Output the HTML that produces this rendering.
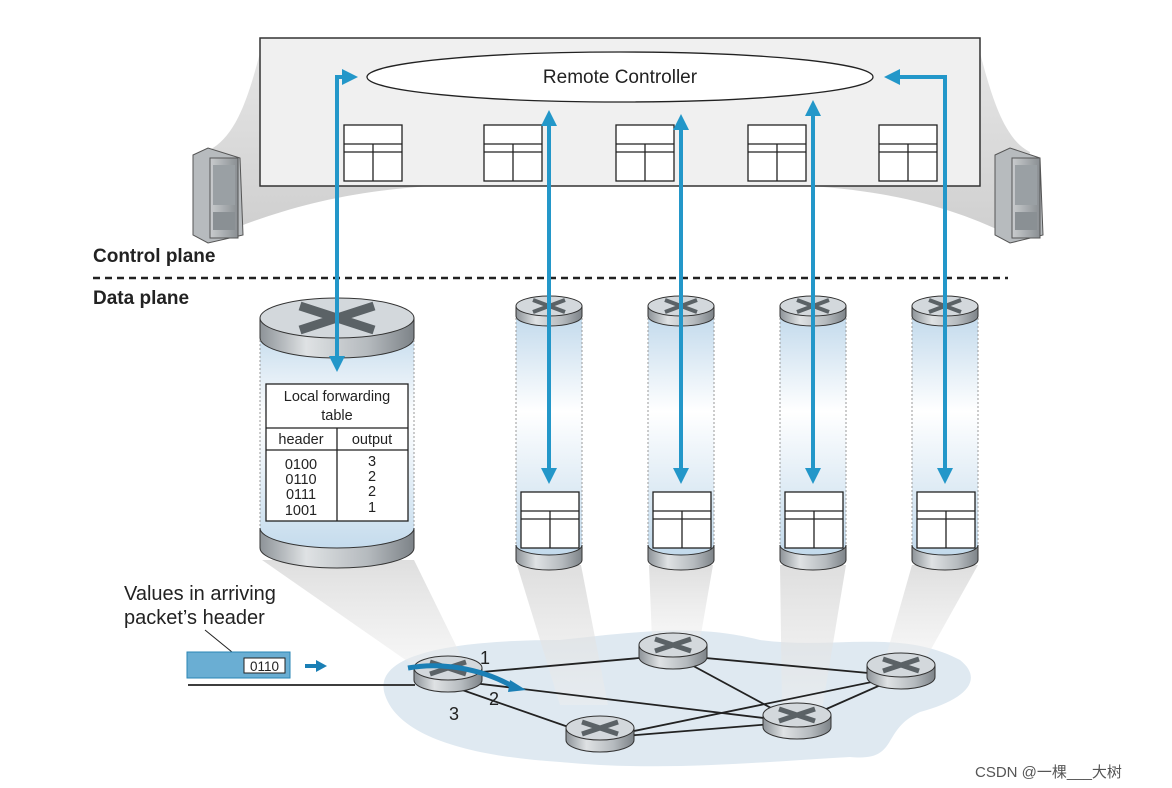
<!DOCTYPE html>
<html><head><meta charset="utf-8"><style>
html,body{margin:0;padding:0;background:#fff;}
svg{display:block;font-family:"Liberation Sans",sans-serif;}
</style></head><body>
<svg width="1172" height="788" viewBox="0 0 1172 788" xmlns="http://www.w3.org/2000/svg">
<defs>
<linearGradient id="metal" x1="0" x2="1" y1="0" y2="0">
<stop offset="0" stop-color="#8d9398"/><stop offset="0.3" stop-color="#dfe2e4"/><stop offset="0.7" stop-color="#b5babe"/><stop offset="1" stop-color="#7d8388"/></linearGradient>
<linearGradient id="body" x1="0" x2="0" y1="0" y2="1">
<stop offset="0" stop-color="#bcd6ea"/><stop offset="0.4" stop-color="#ffffff"/><stop offset="1" stop-color="#bcd6ea"/></linearGradient>
<linearGradient id="beam" x1="0" x2="0" y1="0" y2="1">
<stop offset="0" stop-color="#d6d6d6"/><stop offset="1" stop-color="#eeeeee" stop-opacity="0.6"/></linearGradient>
<linearGradient id="drape" x1="0" x2="0" y1="0" y2="1">
<stop offset="0" stop-color="#e6e6e6"/><stop offset="1" stop-color="#cfcfcf"/></linearGradient>
<linearGradient id="srv" x1="0" x2="1"><stop offset="0" stop-color="#c9ccce"/><stop offset="1" stop-color="#8a8f93"/></linearGradient>
<marker id="ah" markerWidth="4" markerHeight="4" refX="2.5" refY="2" orient="auto" markerUnits="strokeWidth"><path d="M0,0 L4,2 L0,4 z" fill="#2397c9"/></marker>
<g id="rt">
<path d="M-34,0 L-34,12 A34,12 0 0 0 34,12 L34,0 z" fill="url(#metal)" stroke="#333" stroke-width="1"/>
<ellipse cx="0" cy="0" rx="34" ry="12" fill="#d3d8dc" stroke="#333" stroke-width="1"/>
<path d="M-18,-6 L18,6 M18,-6 L-18,6" stroke="#5b6266" stroke-width="5"/>
</g>
<g id="tb">
<rect x="0" y="0" width="58" height="56" fill="#fff" stroke="#222" stroke-width="1.3"/>
<path d="M0,19 H58 M0,27 H58 M29,19 V56" stroke="#222" stroke-width="1.3" fill="none"/>
</g>
</defs>

<!-- drape -->
<path d="M262,45 C248,100 235,140 205,152 L225,232 C280,210 340,192 430,186 L262,186 z" fill="url(#drape)"/>
<path d="M978,45 C992,100 1005,140 1030,152 L1015,238 C960,210 900,192 810,186 L978,186 z" fill="url(#drape)"/>
<rect x="260" y="38" width="720" height="148" fill="#f0f0f0" stroke="#333" stroke-width="1.5"/>
<!-- servers -->
<g>
<path d="M193,155 L208,148 L240,158 L243,235 L208,243 L193,235 z" fill="#b7bbbe" stroke="#555"/>
<rect x="210" y="158" width="28" height="80" fill="url(#srv)" stroke="#555"/>
<rect x="213" y="165" width="22" height="40" fill="#9aa0a4"/><rect x="213" y="212" width="22" height="18" fill="#8a9094"/>
</g>
<g>
<path d="M995,155 L1010,148 L1040,158 L1043,235 L1010,243 L995,235 z" fill="#b7bbbe" stroke="#555"/>
<rect x="1012" y="158" width="28" height="80" fill="url(#srv)" stroke="#555"/>
<rect x="1015" y="165" width="22" height="40" fill="#9aa0a4"/><rect x="1015" y="212" width="22" height="18" fill="#8a9094"/>
</g>
<ellipse cx="620" cy="77" rx="253" ry="25" fill="#fff" stroke="#222" stroke-width="1.3"/>
<text x="620" y="83" font-size="19" text-anchor="middle" fill="#222">Remote Controller</text>
<use href="#tb" x="344" y="125"/><use href="#tb" x="484" y="125"/><use href="#tb" x="616" y="125"/><use href="#tb" x="748" y="125"/><use href="#tb" x="879" y="125"/>

<text x="93" y="262" font-size="19" font-weight="bold" fill="#222">Control plane</text>
<line x1="93" y1="278" x2="1008" y2="278" stroke="#222" stroke-width="2.5" stroke-dasharray="7,5"/>
<text x="93" y="304" font-size="19" font-weight="bold" fill="#222">Data plane</text>

<!-- network blob -->
<path d="M385,695 C370,650 470,640 560,640 C650,630 700,625 760,640 C830,650 900,628 960,660 C985,680 965,700 920,712 C880,730 900,762 850,757 C760,762 660,772 560,762 C480,757 400,740 385,695 z" fill="#dfe9f1"/>
<!-- beams -->
<polygon points="262,560 414,560 468,670 420,670" fill="url(#beam)" opacity="0.8"/>
<polygon points="517,565 581,565 608,705 560,705" fill="url(#beam)" opacity="0.8"/>
<polygon points="649,565 713,565 700,640 652,640" fill="url(#beam)" opacity="0.8"/>
<polygon points="780,565 846,565 822,710 782,710" fill="url(#beam)" opacity="0.8"/>
<polygon points="912,565 978,565 925,660 885,660" fill="url(#beam)" opacity="0.8"/>

<!-- big cylinder -->
<g>
<path d="M260,318 L260,548 A77,20 0 0 0 414,548 L414,318 z" fill="url(#body)"/>
<path d="M260,528 L260,548 A77,20 0 0 0 414,548 L414,528 A77,20 0 0 1 260,528 z" fill="url(#metal)" stroke="#333"/>
<path d="M260,318 L260,338 A77,20 0 0 0 414,338 L414,318 z" fill="url(#metal)" stroke="#333"/>
<ellipse cx="337" cy="318" rx="77" ry="20" fill="#d3d8dc" stroke="#333"/>
<path d="M300,306 L374,330 M374,306 L300,330" stroke="#5b6266" stroke-width="9"/>
<path d="M260,340 V528 M414,340 V528" stroke="#999" stroke-dasharray="2,2"/>
</g>
<g font-size="14.5" fill="#222" text-anchor="middle">
<rect x="266" y="384" width="142" height="137" fill="#fff" stroke="#222" stroke-width="1.3"/>
<path d="M266,428 H408 M266,450 H408 M337,428 V521" stroke="#222" stroke-width="1.3"/>
<text x="337" y="401">Local forwarding</text><text x="337" y="420">table</text>
<text x="301" y="444">header</text><text x="372" y="444">output</text>
<text x="301" y="469">0100</text><text x="301" y="484">0110</text><text x="301" y="499">0111</text><text x="301" y="515">1001</text>
<text x="372" y="466">3</text><text x="372" y="481">2</text><text x="372" y="496">2</text><text x="372" y="512">1</text>
</g>

<!-- thin cylinders -->
<g id="tc">
<path d="M516,306 L516,560 A33,10 0 0 0 582,560 L582,306 z" fill="url(#body)"/>
<path d="M516,545 L516,560 A33,10 0 0 0 582,560 L582,545 A33,10 0 0 1 516,545 z" fill="url(#metal)" stroke="#333"/>
<path d="M516,306 L516,316 A33,10 0 0 0 582,316 L582,306 z" fill="url(#metal)" stroke="#333"/>
<ellipse cx="549" cy="306" rx="33" ry="10" fill="#d3d8dc" stroke="#333"/>
<path d="M533,300 L565,312 M565,300 L533,312" stroke="#5b6266" stroke-width="4"/>
<path d="M516,318 V545 M582,318 V545" stroke="#999" stroke-dasharray="2,2"/>
<use href="#tb" x="521" y="492"/>
</g>
<use href="#tc" x="132"/><use href="#tc" x="264"/><use href="#tc" x="396"/>

<!-- blue arrows -->
<g stroke="#2397c9" stroke-width="4" fill="none">
<path d="M337,366 V77 H352" marker-end="url(#ah)"/>
<path d="M337,100 V366" marker-end="url(#ah)"/>
<path d="M549,120 V478" marker-end="url(#ah)"/><path d="M549,400 V116" marker-end="url(#ah)"/>
<path d="M681,124 V478" marker-end="url(#ah)"/><path d="M681,400 V120" marker-end="url(#ah)"/>
<path d="M813,110 V478" marker-end="url(#ah)"/><path d="M813,400 V106" marker-end="url(#ah)"/>
<path d="M945,200 V77 H890" marker-end="url(#ah)"/><path d="M945,200 V478" marker-end="url(#ah)"/>
</g>

<!-- links -->
<g stroke="#222" stroke-width="1.8">
<line x1="448" y1="675" x2="673" y2="655"/>
<line x1="448" y1="680" x2="797" y2="722"/>
<line x1="448" y1="685" x2="600" y2="738"/>
<line x1="673" y1="655" x2="901" y2="676"/>
<line x1="673" y1="655" x2="797" y2="722"/>
<line x1="600" y1="738" x2="901" y2="676"/>
<line x1="600" y1="738" x2="797" y2="722"/>
<line x1="797" y1="722" x2="901" y2="676"/>
<line x1="188" y1="685" x2="415" y2="685"/>
</g>
<use href="#rt" x="448" y="668"/>
<use href="#rt" x="673" y="645"/>
<use href="#rt" x="901" y="665"/>
<use href="#rt" x="797" y="715"/>
<use href="#rt" x="600" y="728"/>
<path d="M408,668 C440,662 480,668 512,686" stroke="#1a7fb5" stroke-width="5" fill="none"/>
<path d="M510,680 L526,690 L508,692 z" fill="#1a7fb5"/>
<g font-size="18" fill="#222"><text x="480" y="664">1</text><text x="489" y="705">2</text><text x="449" y="720">3</text></g>

<!-- packet -->
<text x="124" y="600" font-size="20" fill="#222">Values in arriving</text>
<text x="124" y="624" font-size="20" fill="#222">packet’s header</text>
<line x1="205" y1="630" x2="232" y2="652" stroke="#222"/>
<rect x="187" y="652" width="103" height="26" fill="#6aaed3" stroke="#2a86b6"/>
<rect x="244" y="658" width="41" height="15" fill="#fff" stroke="#222"/>
<text x="264.5" y="671" font-size="13.5" text-anchor="middle" fill="#222">0110</text>
<path d="M305,666 H318" stroke="#1a7fb5" stroke-width="4"/><path d="M316,660 L327,666 L316,672 z" fill="#1a7fb5"/>

<text x="975" y="777" font-size="15" fill="#555" font-family="'Liberation Sans','Noto Sans CJK SC',sans-serif">CSDN @一棵___大树</text>
</svg>
</body></html>
